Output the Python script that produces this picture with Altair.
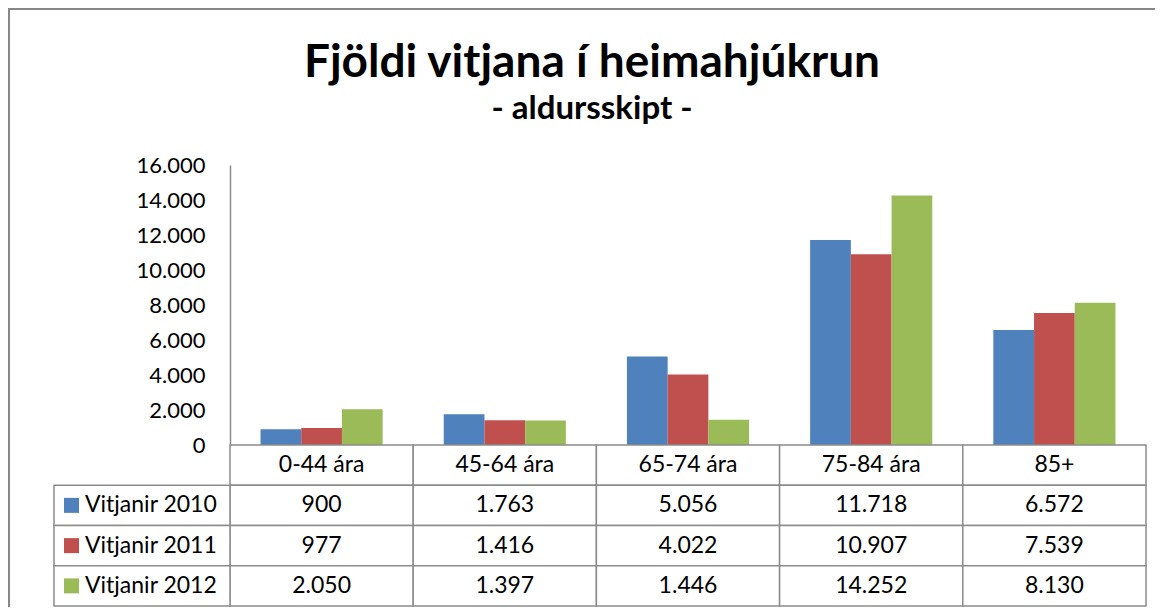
import altair as alt
import pandas as pd

# ---------------- data ----------------
title_text = "Fjöldi vitjana í heimahjúkrun"
subtitle_text = "- aldursskipt -"
categories = ["0-44 ára", "45-64 ára", "65-74 ára", "75-84 ára", "85+"]
series_names = ["Vitjanir 2010", "Vitjanir 2011", "Vitjanir 2012"]
v2010 = [900, 1763, 5056, 11718, 6572]
v2011 = [977, 1416, 4022, 10907, 7539]
v2012 = [2050, 1397, 1446, 14252, 8130]
y_ticks = [0, 2000, 4000, 6000, 8000, 10000, 12000, 14000, 16000]

# ---------------- style ----------------
colors = ["#4F81BD", "#C0504D", "#9BBB59"]
FONT = "Lato"
GRID = "#8c8c8c"
W, H = 1147, 599
X0, X1 = 222, 1138          # plot area left/right (px)
Y0, YTOP = 437, 157         # baseline / top of value axis (px)
TBL = [437, 598]            # table top/bottom (px)
LEG_X0 = 46                 # left edge of legend column
TXT = 23

rows = []
for s, vals in zip(series_names, [v2010, v2011, v2012]):
    for c, v in zip(categories, vals):
        rows.append({"cat": c, "series": s, "value": v})
bars_df = pd.DataFrame(rows)

cells = [{"cat": c, "row": "header", "label": c} for c in categories]
for r in rows:
    cells.append({"cat": r["cat"], "row": r["series"],
                  "label": f"{r['value']:,}".replace(",", ".")})
cells_df = pd.DataFrame(cells)
leg_df = pd.DataFrame({"row": series_names, "series": series_names})

x_scale = alt.Scale(domain=categories, range=[X0, X1], paddingInner=0, paddingOuter=0)
color_scale = alt.Scale(domain=series_names, range=colors)
row_scale = alt.Scale(domain=["header"] + series_names, range=TBL,
                      paddingInner=0, paddingOuter=0)

bars = alt.Chart(bars_df).mark_bar().encode(
    x=alt.X("cat:N", scale=x_scale, axis=None, sort=categories),
    xOffset=alt.XOffset("series:N", sort=series_names,
                        scale=alt.Scale(domain=series_names, paddingInner=0, paddingOuter=0.75)),
    y=alt.Y("value:Q",
            scale=alt.Scale(domain=[0, 16000], range=[Y0, YTOP], nice=False),
            axis=alt.Axis(values=y_ticks, offset=-X0, ticks=False, grid=False,
                          labelExpr="replace(format(datum.value, ','), ',', '.')",
                          labelFont=FONT, labelFontSize=22, labelColor="black",
                          labelPadding=25, domainColor=GRID, domainWidth=1.5,
                          title=None)),
    color=alt.Color("series:N", scale=color_scale, legend=None),
)

cell_rects = alt.Chart(cells_df).mark_rect(fill="white", stroke=GRID, strokeWidth=1.5).encode(
    x=alt.X("cat:N", scale=x_scale, axis=None, sort=categories),
    y=alt.Y("row:N", scale=row_scale, axis=None),
)
cell_text = alt.Chart(cells_df).mark_text(font=FONT, fontSize=TXT, color="black",
                                          baseline="middle").encode(
    x=alt.X("cat:N", scale=x_scale, axis=None, sort=categories),
    y=alt.Y("row:N", scale=row_scale, axis=None),
    text="label:N",
)
leg_rects = alt.Chart(leg_df).mark_rect(fill="white", stroke=GRID, strokeWidth=1.5).encode(
    x=alt.value(LEG_X0), x2=alt.value(X0),
    y=alt.Y("row:N", scale=row_scale, axis=None),
)
leg_squares = alt.Chart(leg_df).mark_square(size=225, opacity=1).encode(
    x=alt.value(63.5),
    y=alt.Y("row:N", scale=row_scale, axis=None),
    color=alt.Color("series:N", scale=color_scale, legend=None),
)
leg_text = alt.Chart(leg_df).mark_text(font=FONT, fontSize=TXT, color="black",
                                       align="left", baseline="middle").encode(
    x=alt.value(77),
    y=alt.Y("row:N", scale=row_scale, axis=None),
    text="row:N",
)
table = alt.layer(cell_rects, leg_rects, leg_squares, leg_text, cell_text)

title = alt.Chart(pd.DataFrame({"t": [title_text]})).mark_text(
    font=FONT, fontSize=46, fontWeight="bold", color="black",
    align="center", baseline="alphabetic").encode(
    x=alt.value(584), y=alt.value(69), text="t:N")
subtitle = alt.Chart(pd.DataFrame({"t": [subtitle_text]})).mark_text(
    font=FONT, fontSize=33, fontWeight="bold", color="black",
    align="center", baseline="alphabetic").encode(
    x=alt.value(584), y=alt.value(111), text="t:N")

frame_top = alt.Chart(pd.DataFrame({"a": [0]})).mark_rule(color="#878787", strokeWidth=2).encode(
    x=alt.value(0), x2=alt.value(W), y=alt.value(1))
frame_left = alt.Chart(pd.DataFrame({"a": [0]})).mark_rule(color="#878787", strokeWidth=2).encode(
    x=alt.value(1), y=alt.value(0), y2=alt.value(H))

chart = alt.layer(bars, table, title, subtitle, frame_top, frame_left).resolve_scale(
    y="independent"
).properties(
    width=W, height=H, padding=0,
    autosize=alt.AutoSizeParams(type="none"),
    background="white",
).configure_view(stroke=None)

chart.save("out.html", embed_options={"renderer": "svg", "actions": False})
